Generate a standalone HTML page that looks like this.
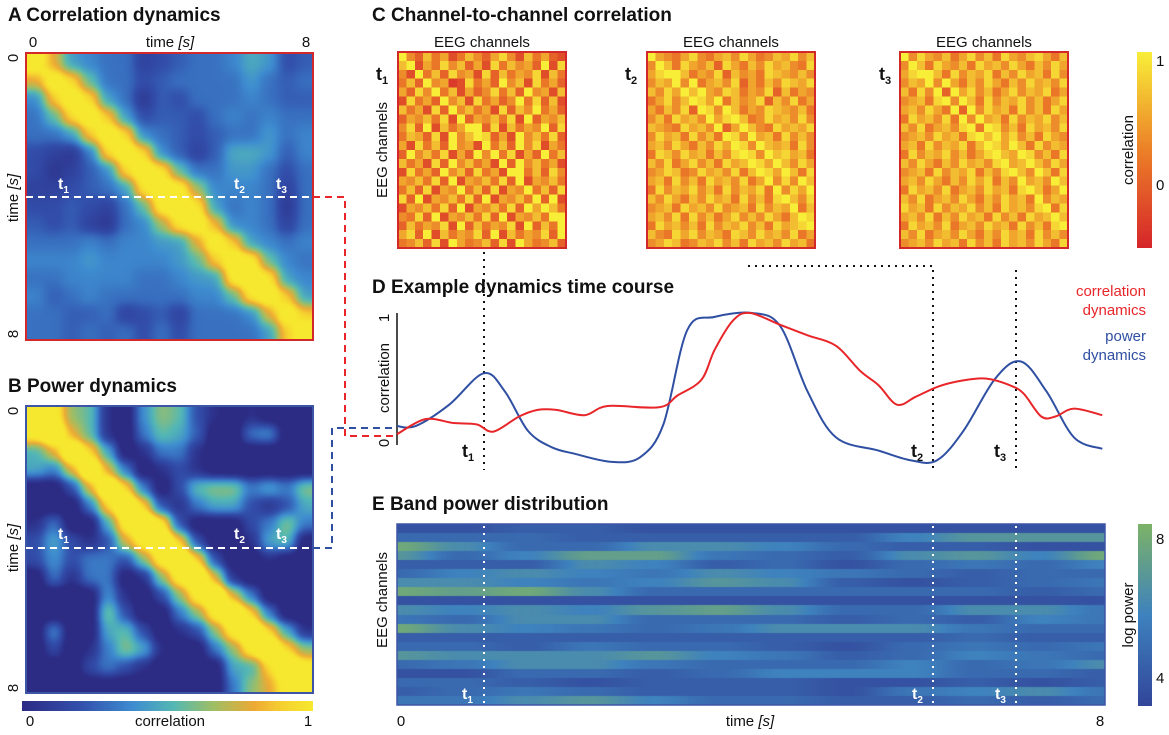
<!DOCTYPE html>
<html><head><meta charset="utf-8"><style>
html,body{margin:0;padding:0;background:#fff;}
body{width:1169px;height:735px;position:relative;overflow:hidden;font-family:"Liberation Sans",sans-serif;}
canvas{position:absolute;}
svg{position:absolute;left:0;top:0;}
</style></head><body>
<canvas id="cA" width="144" height="144" style="left:26px;top:53px;width:287px;height:287px"></canvas>
<canvas id="cB" width="144" height="144" style="left:26px;top:406px;width:287px;height:287px"></canvas>
<canvas id="cBar" width="291" height="10" style="left:22px;top:701px;width:291px;height:10px"></canvas>
<canvas id="m1" width="20" height="22" style="left:398px;top:52px;width:168px;height:196px;image-rendering:pixelated"></canvas>
<canvas id="m2" width="20" height="22" style="left:647px;top:52px;width:168px;height:196px;image-rendering:pixelated"></canvas>
<canvas id="m3" width="20" height="22" style="left:900px;top:52px;width:168px;height:196px;image-rendering:pixelated"></canvas>
<canvas id="cCbar" width="15" height="196" style="left:1137px;top:52px;width:15px;height:196px"></canvas>
<canvas id="cE" width="708" height="181" style="left:397px;top:524px;width:708px;height:181px"></canvas>
<canvas id="cEbar" width="14" height="182" style="left:1138px;top:524px;width:14px;height:182px"></canvas>

<svg id="ov" width="1169" height="735" font-family="Liberation Sans, sans-serif">
<g font-weight="bold" font-size="19" fill="#111">
<text x="8" y="21">A  Correlation dynamics</text>
<text x="8" y="392">B  Power dynamics</text>
<text x="372" y="21">C  Channel-to-channel correlation</text>
<text x="372" y="293">D  Example dynamics time course</text>
<text x="372" y="510">E  Band power distribution</text>
</g>
<rect x="26" y="53" width="287" height="287" fill="none" stroke="#d2282a" stroke-width="2"/>
<rect x="26" y="406" width="287" height="287" fill="none" stroke="#3d55a6" stroke-width="2"/>
<g font-size="15" fill="#111">
<text x="33" y="47" text-anchor="middle">0</text>
<text x="170" y="47" text-anchor="middle">time <tspan font-style="italic">[s]</tspan></text>
<text x="306" y="47" text-anchor="middle">8</text>
<text transform="translate(18,58) rotate(-90)" text-anchor="middle">0</text>
<text transform="translate(18,198) rotate(-90)" text-anchor="middle">time <tspan font-style="italic">[s]</tspan></text>
<text transform="translate(18,334) rotate(-90)" text-anchor="middle">8</text>
<text transform="translate(18,411) rotate(-90)" text-anchor="middle">0</text>
<text transform="translate(18,548) rotate(-90)" text-anchor="middle">time <tspan font-style="italic">[s]</tspan></text>
<text transform="translate(18,688) rotate(-90)" text-anchor="middle">8</text>
<text x="30" y="726" text-anchor="middle">0</text>
<text x="170" y="726" text-anchor="middle">correlation</text>
<text x="308" y="726" text-anchor="middle">1</text>
<text x="482" y="47" text-anchor="middle">EEG channels</text>
<text x="731" y="47" text-anchor="middle">EEG channels</text>
<text x="984" y="47" text-anchor="middle">EEG channels</text>
<text transform="translate(387,150) rotate(-90)" text-anchor="middle">EEG channels</text>
<text transform="translate(1133,150) rotate(-90)" text-anchor="middle">correlation</text>
<text x="1156" y="66">1</text>
<text x="1156" y="190">0</text>
<text transform="translate(389,318) rotate(-90)" text-anchor="middle">1</text>
<text transform="translate(389,443) rotate(-90)" text-anchor="middle">0</text>
<text transform="translate(389,378) rotate(-90)" text-anchor="middle">correlation</text>
<text x="1146" y="296" text-anchor="end" fill="#e8262a">correlation</text>
<text x="1146" y="315" text-anchor="end" fill="#e8262a">dynamics</text>
<text x="1146" y="341" text-anchor="end" fill="#2f4fa2">power</text>
<text x="1146" y="360" text-anchor="end" fill="#2f4fa2">dynamics</text>
<text transform="translate(387,600) rotate(-90)" text-anchor="middle">EEG channels</text>
<text transform="translate(1133,615) rotate(-90)" text-anchor="middle">log power</text>
<text x="1156" y="544">8</text>
<text x="1156" y="683">4</text>
<text x="401" y="726" text-anchor="middle">0</text>
<text x="750" y="726" text-anchor="middle">time <tspan font-style="italic">[s]</tspan></text>
<text x="1100" y="726" text-anchor="middle">8</text>
</g>
<g fill="#fff" font-weight="bold" font-size="16">
<text x="58" y="189">t<tspan font-size="10" dy="4">1</tspan></text>
<text x="234" y="189">t<tspan font-size="10" dy="4">2</tspan></text>
<text x="276" y="189">t<tspan font-size="10" dy="4">3</tspan></text>
<text x="58" y="539">t<tspan font-size="10" dy="4">1</tspan></text>
<text x="234" y="539">t<tspan font-size="10" dy="4">2</tspan></text>
<text x="276" y="539">t<tspan font-size="10" dy="4">3</tspan></text>
<text x="462" y="699">t<tspan font-size="10" dy="4">1</tspan></text>
<text x="912" y="699">t<tspan font-size="10" dy="4">2</tspan></text>
<text x="995" y="699">t<tspan font-size="10" dy="4">3</tspan></text>
</g>
<g fill="#111" font-weight="bold" font-size="18">
<text x="376" y="80">t<tspan font-size="11" dy="4">1</tspan></text>
<text x="625" y="80">t<tspan font-size="11" dy="4">2</tspan></text>
<text x="879" y="80">t<tspan font-size="11" dy="4">3</tspan></text>
<text x="462" y="457">t<tspan font-size="11" dy="4">1</tspan></text>
<text x="911" y="457">t<tspan font-size="11" dy="4">2</tspan></text>
<text x="994" y="457">t<tspan font-size="11" dy="4">3</tspan></text>
</g>
<g fill="none" stroke="#d2282a" stroke-width="2">
<rect x="398" y="52" width="168" height="196"/>
<rect x="647" y="52" width="168" height="196"/>
<rect x="900" y="52" width="168" height="196"/>
</g>
<rect x="397" y="524" width="708" height="181" fill="none" stroke="#3d55a6" stroke-width="1.5"/>
<g stroke-width="2" fill="none" stroke-dasharray="7,5">
<line x1="26" y1="197" x2="313" y2="197" stroke="#fff"/>
<line x1="26" y1="548" x2="313" y2="548" stroke="#fff"/>
<path d="M313,197 H345 V436 H395" stroke="#e8262a"/>
<path d="M313,548 H332 V428 H395" stroke="#2f4fa2"/>
</g>
<g stroke="#111" stroke-width="2" stroke-dasharray="2,5" fill="none">
<path d="M484,252 V470"/>
<path d="M748,266 H933 V470"/>
<path d="M1016,270 V470"/>
</g>
<g stroke="#fff" stroke-width="2" stroke-dasharray="2,5">
<line x1="484" y1="526" x2="484" y2="705"/>
<line x1="933" y1="526" x2="933" y2="705"/>
<line x1="1016" y1="526" x2="1016" y2="705"/>
</g>
<line x1="397" y1="313" x2="397" y2="445" stroke="#111" stroke-width="1.5"/>
<g id="dlines"></g>
</svg>
<script>
// ---- Panel D data ----
const redT = [0,0.32,0.64,0.9,1.09,1.38,1.59,1.8,2.12,2.38,2.96,3.17,3.44,3.59,3.8,3.99,4.33,4.64,4.96,5.23,5.44,5.65,5.86,6.12,6.39,6.65,6.92,7.08,7.28,7.44,7.65,7.97];
const redV = [0.075,0.19,0.16,0.15,0.095,0.21,0.26,0.26,0.22,0.29,0.28,0.37,0.49,0.72,0.945,1.0,0.91,0.83,0.75,0.56,0.45,0.30,0.36,0.44,0.485,0.50,0.45,0.385,0.21,0.21,0.27,0.22];
const blueT = [0,0.21,0.59,0.98,1.22,1.48,1.75,2.01,2.43,2.75,3.01,3.28,3.59,4.01,4.33,4.64,4.96,5.44,5.81,6.10,6.40,6.76,7.05,7.34,7.65,7.97];
const blueV = [0.137,0.137,0.30,0.54,0.40,0.10,-0.025,-0.075,-0.137,-0.10,0.15,0.87,0.97,1.0,0.90,0.40,0.05,-0.05,-0.125,-0.125,0.10,0.50,0.63,0.40,0.05,-0.037];
// ---- Panel A / B coarse correlation grids ----
const gridA = [
[1,.7,.4,.35,.3,.3,.15,.2,.25,.3,.3,.35,.45,.4,.2,.25],
[.7,1,.85,.5,.3,.3,.2,.25,.3,.3,.3,.3,.4,.3,.25,.3],
[.35,.8,1,.85,.4,.3,.1,.25,.2,.3,.3,.3,.35,.3,.25,.25],
[.3,.5,.85,1,.8,.4,.2,.25,.25,.2,.3,.35,.3,.35,.3,.3],
[.3,.3,.4,.8,1,.85,.35,.3,.25,.2,.25,.3,.3,.4,.3,.35],
[.2,.15,.1,.3,.85,1,.85,.35,.25,.15,.25,.45,.45,.4,.25,.35],
[.2,.1,.15,.25,.35,.85,1,.9,.5,.3,.3,.4,.4,.3,.2,.3],
[.15,.15,.2,.25,.3,.4,.9,1,.95,.6,.35,.35,.35,.3,.15,.3],
[.2,.2,.25,.2,.15,.3,.5,.95,1,.9,.4,.3,.35,.3,.1,.3],
[.25,.2,.25,.15,.1,.3,.35,.6,.9,1,.75,.35,.35,.3,.15,.3],
[.3,.3,.3,.35,.3,.35,.35,.4,.4,.7,1,.8,.4,.35,.3,.35],
[.35,.35,.35,.4,.35,.35,.35,.35,.4,.5,.8,1,.95,.5,.35,.3],
[.3,.3,.35,.35,.35,.35,.3,.3,.35,.4,.4,.95,1,.9,.4,.35],
[.35,.25,.3,.35,.3,.3,.3,.3,.3,.35,.35,.5,.9,1,.8,.4],
[.3,.3,.25,.25,.3,.15,.2,.25,.15,.3,.3,.3,.35,.7,1,.8],
[.3,.3,.25,.3,.25,.3,.2,.3,.2,.3,.3,.3,.3,.4,.8,1]];
const gridB = [
[1,.8,.5,.45,.1,0,.35,.5,.45,.2,.1,0,.1,0,0,0],
[.8,1,.6,.45,.1,0,.3,.45,.4,.25,0,0,.3,.35,0,0],
[.4,.6,1,.7,.4,0,.1,.3,.3,.1,0,0,0,0,0,0],
[.4,.3,.6,1,.6,.3,0,.1,.2,.1,0,0,0,0,0,0],
[0,0,.2,.6,1,.7,.3,0,.2,.45,.5,.5,.3,.4,.3,.5],
[0,0,0,.3,.7,1,.7,.2,.1,.3,.4,.4,.2,.1,.2,.4],
[.1,.3,0,0,.4,.8,1,.8,.2,0,0,0,.2,.3,.5,.3],
[.2,.4,.2,.1,.2,.6,.8,1,.7,.2,0,0,.1,.4,.45,0],
[.2,.35,.2,.3,.3,.2,.5,.8,1,.7,.2,0,0,.1,0,0],
[0,.3,.1,.3,.3,0,.1,.5,.8,1,.6,.1,0,0,0,0],
[0,0,0,0,.35,.1,0,.2,.5,.8,1,.6,.3,0,0,0],
[0,0,0,0,.5,.2,0,0,.3,.5,.8,1,.7,.3,0,0],
[0,.35,0,0,.4,.45,.2,0,.1,.2,.5,.8,1,.7,.4,.1],
[0,.2,0,.1,.3,.5,.4,.1,0,0,.3,.5,.8,1,.7,.5],
[0,0,0,.2,.3,.2,.1,0,0,0,0,.4,.4,.7,1,.8],
[0,0,0,0,0,0,0,0,0,0,0,.3,.5,.6,.8,1]];
// ---- Panel C matrices (digits 0-9 = correlation level) ----
const mat1 = ["95374624753685274632","79264857362847563928","52947385628374658274","47395612846395728463","63859472635847395627","28463957284635948372","74628395746283759463","36574829365748293657","58392746593827465938","47638295748362957483","62847395628473958264","39574826395748263947","74628395746283957462","28463957384625947385","65748392657483926574","47382659473826594738","83926574839265748392","26574839265748396574","54839265748392657489","37465829374658293746","68392746583927465839","45738296457382964573"];
const mat2 = ["76546854675864576857","59748657386475867548","68597465837564876575","57685946758364758768","75864796587465837465","46857586947568375846","64758368597465876574","57486754689745867585","76548675836975486768","58674857468596748575","67586475864859767485","48758674758685978674","75846857486758697586","56874586758475869748","67485748675846758597","48576857485768475869","75864758674857486758","56748675856748576847","67584857468575864758","48675748576857486785","75486857648758675846","56874576857486758674"];
const mat3 = ["75865746857486578647","59748657486758647586","68597485768475867485","57685964758647586758","74857396857468576846","56748659748576857468","67586473958674857486","48675846596748576857","75846758649857486758","56758674857968574865","67485768475869748576","48576857468576985748","75864758675846797586","56748576847586759748","67586475868475867597","48675846758674857469","75846758647586748576","86748576857486758648","67584758674857486757","48675846758674857486","75846758647586748575","56758674857486758648"];
// ---- Panel E band power (rows = channels, cols = time samples) ----
const bandE = [
[.1,.1,.2,.2,.1,.1,.1,.1,.1,.1,.1,.1],[.3,.3,.3,.2,.2,.2,.2,.2,.5,.7,.7,.7],[.9,.6,.3,.3,.6,.6,.5,.3,.2,.2,.1,.1],
[.7,.3,.5,.8,.8,.4,.3,.2,.6,.7,.5,.9],[.2,.2,.2,.6,.5,.2,.3,.1,.3,.4,.3,.5],[.3,.5,.6,.5,.4,.6,.5,.4,.3,.2,.3,.3],
[.6,.6,.5,.4,.5,.7,.6,.2,.1,.2,.3,.4],[.9,.8,.9,.6,.3,.3,.3,.3,.3,.3,.2,.3],[.1,.1,.1,.1,.1,.1,.1,.1,.1,.1,.1,.1],
[.6,.5,.6,.5,.7,.8,.6,.3,.3,.6,.6,.4],[.4,.3,.6,.6,.3,.3,.3,.2,.3,.2,.5,.4],[.9,.6,.5,.4,.3,.4,.6,.6,.6,.4,.3,.3],
[.2,.2,.2,.2,.2,.2,.2,.2,.2,.3,.2,.2],[.3,.3,.2,.4,.3,.3,.2,.1,.3,.4,.3,.4],[.7,.6,.6,.6,.7,.5,.4,.2,.3,.5,.4,.3],
[.3,.4,.6,.6,.4,.3,.3,.3,.5,.3,.4,.6],[.1,.1,.3,.3,.2,.3,.5,.5,.5,.3,.3,.2],[.3,.3,.2,.1,.2,.2,.2,.1,.1,.2,.1,.2],
[.2,.3,.4,.3,.2,.2,.2,.1,.4,.5,.6,.4],[.4,.4,.6,.7,.5,.3,.3,.2,.2,.3,.2,.3]];

function cmap(stops,v){v=Math.max(0,Math.min(1,v));for(let i=1;i<stops.length;i++){if(v<=stops[i][0]){const a=stops[i-1],b=stops[i],f=(v-a[0])/(b[0]-a[0]);return [0,1,2].map(k=>Math.round(a[1][k]+(b[1][k]-a[1][k])*f));}}return stops[stops.length-1][1];}
const parula=[[0,[44,44,133]],[0.2,[50,80,172]],[0.38,[62,140,208]],[0.52,[84,184,180]],[0.66,[160,190,100]],[0.8,[238,170,52]],[0.9,[246,210,48]],[1,[246,232,46]]];
const hot=[[0,[214,38,42]],[0.5,[236,128,40]],[1,[248,238,56]]];
const bg=[[0,[50,70,154]],[0.5,[62,130,190]],[1,[124,178,104]]];

function heat(id,grid,sig,dw,lo,gain){const c=document.getElementById(id),ctx=c.getContext('2d'),N=144,n=grid.length,img=ctx.createImageData(N,N);
 for(let y=0;y<N;y++)for(let x=0;x<N;x++){const gx=x/N*n-0.5,gy=y/N*n-0.5;let s=0,w=0;
  for(let i=Math.max(0,Math.floor(gy)-3);i<=Math.min(n-1,Math.floor(gy)+3);i++)for(let j=Math.max(0,Math.floor(gx)-3);j<=Math.min(n-1,Math.floor(gx)+3);j++){const d2=((i-gy)**2+(j-gx)**2);const ww=Math.exp(-d2/(2*sig*sig));s+=ww*grid[i][j];w+=ww;}
  let v=(s/w-lo)*gain;const d=(x-y)/N;v=Math.max(v,Math.exp(-Math.pow(Math.abs(d)/dw,2.5)));
  const col=cmap(parula,v),k=(y*N+x)*4;img.data[k]=col[0];img.data[k+1]=col[1];img.data[k+2]=col[2];img.data[k+3]=255;}
 ctx.putImageData(img,0,0);}
heat('cA',gridA,0.45,0.075,0.05,1.2);heat('cB',gridB,0.45,0.075,0.08,1.5);

(function(){const c=document.getElementById('cBar').getContext('2d');for(let x=0;x<291;x++){const col=cmap(parula,x/290);c.fillStyle=`rgb(${col})`;c.fillRect(x,0,1,10);}})();
(function(){const c=document.getElementById('cCbar').getContext('2d');for(let y=0;y<196;y++){const col=cmap(hot,1-y/195);c.fillStyle=`rgb(${col})`;c.fillRect(0,y,15,1);}})();
(function(){const c=document.getElementById('cEbar').getContext('2d');for(let y=0;y<182;y++){const col=cmap(bg,1-y/181);c.fillStyle=`rgb(${col})`;c.fillRect(0,y,14,1);}})();

function mat(id,rows){const c=document.getElementById(id).getContext('2d');rows.forEach((r,i)=>{for(let j=0;j<r.length;j++){let v=+r[j]/9;if(i===j)v=1;const col=cmap(hot,v);c.fillStyle=`rgb(${col})`;c.fillRect(j,i,1,1);}});}
mat('m1',mat1);mat('m2',mat2);mat('m3',mat3);

(function(){const c=document.getElementById('cE').getContext('2d'),W=708,H=181,R=bandE.length,rh=H/R;
 bandE.forEach((row,r)=>{const n=row.length;for(let x=0;x<W;x++){let g=x/(W-1)*(n-1);const i0=Math.floor(g),i1=Math.min(n-1,i0+1);let f=g-i0;f=f*f*(3-2*f);const v=row[i0]*(1-f)+row[i1]*f;const col=cmap(bg,v);c.fillStyle=`rgb(${col})`;c.fillRect(x,Math.round(r*rh),1,Math.ceil(rh)+1);}});})();

// D lines
const xS=t=>397+t*88.5, yS=v=>444-v*131;
function smooth(T,V){const p=T.map((t,i)=>[xS(t),yS(V[i])]);let d=`M${p[0][0]},${p[0][1]}`;for(let i=0;i<p.length-1;i++){const p0=p[Math.max(0,i-1)],p1=p[i],p2=p[i+1],p3=p[Math.min(p.length-1,i+2)];const c1=[p1[0]+(p2[0]-p0[0])/6,p1[1]+(p2[1]-p0[1])/6],c2=[p2[0]-(p3[0]-p1[0])/6,p2[1]-(p3[1]-p1[1])/6];d+=`C${c1[0].toFixed(1)},${c1[1].toFixed(1)} ${c2[0].toFixed(1)},${c2[1].toFixed(1)} ${p2[0].toFixed(1)},${p2[1].toFixed(1)}`;}return d;}
const g=document.getElementById('dlines'),NS='http://www.w3.org/2000/svg';
const pb=document.createElementNS(NS,'path');pb.setAttribute('d',smooth(blueT,blueV));pb.setAttribute('stroke','#2f4fa2');pb.setAttribute('stroke-width','2');pb.setAttribute('fill','none');


g.appendChild(pb);
const pr=document.createElementNS(NS,'path');pr.setAttribute('d',smooth(redT,redV));pr.setAttribute('stroke','#e8262a');pr.setAttribute('stroke-width','2');pr.setAttribute('fill','none');


g.appendChild(pr);
</script>
</body></html>
